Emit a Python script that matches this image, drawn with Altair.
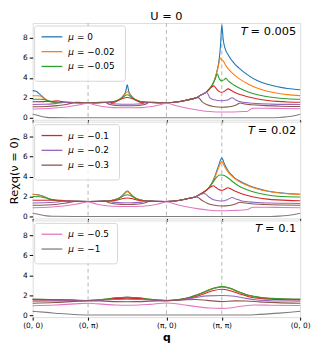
import altair as alt
import pandas as pd

# ---------------- data ----------------
Q_TICKS = [0.0, 1.0, 2.414, 3.414, 4.828]
Q_LABELS = ["(0, 0)", "(0, π)", "(π, 0)", "(π, π)", "(0, 0)"]
MU_VALUES = ["0", "−0.02", "−0.05", "−0.1", "−0.2", "−0.3", "−0.5", "−1"]
COLORS = ["#1f77b4", "#ff7f0e", "#2ca02c", "#d62728", "#9467bd", "#8c564b", "#e377c2", "#7f7f7f"]
TEMPS = ["0.005", "0.02", "0.1"]
Y_TICKS = [0, 2, 4, 6, 8]

# ---- T = 0.005 ----
P1_MU0 = [(0,2.72),(0.05,2.68),(0.11,2.45),(0.18,2.1),(0.25,1.78),(0.32,1.62),(0.45,1.55),(0.7,1.52),(1.0,1.5),(1.25,1.53),(1.4,1.58),(1.5,1.68),(1.58,1.9),(1.64,2.25),(1.68,2.65),(1.707,3.3),(1.734,2.65),(1.774,2.25),(1.834,1.9),(1.914,1.68),(2.014,1.58),(2.164,1.53),(2.414,1.5),(2.63,1.6),(2.81,1.8),(2.94,1.98),(3.03,2.25),(3.14,2.6),(3.22,3.1),(3.27,3.6),(3.31,4.3),(3.34,5.0),(3.365,5.8),(3.39,7.2),(3.414,9.3),(3.44,7.8),(3.47,7.0),(3.53,6.3),(3.63,5.5),(3.72,5.0),(3.88,4.3),(4.06,3.7),(4.24,3.35),(4.42,3.1),(4.6,2.93),(4.828,2.8)]
P1_MU002 = [(0,2.2),(0.1,2.2),(0.15,2.15),(0.2,1.95),(0.26,1.72),(0.32,1.62),(0.45,1.56),(0.7,1.52),(1.0,1.5),(1.25,1.53),(1.4,1.58),(1.5,1.66),(1.58,1.85),(1.64,2.15),(1.707,2.6),(1.774,2.15),(1.834,1.85),(1.914,1.66),(2.014,1.58),(2.164,1.53),(2.414,1.5),(2.63,1.6),(2.81,1.8),(2.94,1.98),(3.03,2.25),(3.14,2.6),(3.22,3.1),(3.27,3.6),(3.31,4.3),(3.34,4.9),(3.36,5.4),(3.385,6.0),(3.41,5.8),(3.44,5.7),(3.49,5.2),(3.53,4.9),(3.63,4.35),(3.72,3.95),(3.88,3.4),(4.06,2.95),(4.24,2.65),(4.42,2.45),(4.6,2.32),(4.828,2.22)]
P1_MU005 = [(0,1.85),(0.15,1.85),(0.22,1.82),(0.28,1.7),(0.35,1.6),(0.42,1.56),(0.7,1.52),(1.0,1.5),(1.25,1.53),(1.42,1.57),(1.5,1.68),(1.58,1.88),(1.64,2.1),(1.707,2.3),(1.774,2.1),(1.834,1.88),(1.914,1.68),(1.994,1.57),(2.164,1.53),(2.414,1.5),(2.63,1.6),(2.81,1.8),(2.94,1.98),(3.03,2.25),(3.14,2.6),(3.22,3.1),(3.27,3.6),(3.3,3.95),(3.33,4.4),(3.37,3.9),(3.41,3.7),(3.45,3.8),(3.49,3.95),(3.53,3.7),(3.6,3.4),(3.72,3.0),(3.88,2.6),(4.06,2.3),(4.24,2.1),(4.42,1.98),(4.6,1.9),(4.828,1.85)]
P1_MU01 = [(0,1.6),(0.2,1.62),(0.35,1.65),(0.45,1.7),(0.52,1.62),(0.62,1.56),(0.8,1.52),(1.0,1.5),(1.25,1.52),(1.48,1.57),(1.55,1.75),(1.62,1.92),(1.707,2.03),(1.794,1.92),(1.864,1.75),(1.934,1.57),(2.164,1.52),(2.414,1.5),(2.63,1.6),(2.81,1.8),(2.94,1.98),(3.03,2.25),(3.14,2.6),(3.22,3.05),(3.27,3.2),(3.31,2.95),(3.36,2.65),(3.414,2.55),(3.46,2.65),(3.53,2.9),(3.58,2.75),(3.66,2.5),(3.76,2.3),(3.88,2.1),(4.06,1.88),(4.24,1.73),(4.42,1.64),(4.6,1.58),(4.828,1.55)]
P1_MU02 = [(0,1.33),(0.2,1.35),(0.4,1.42),(0.52,1.5),(0.61,1.57),(0.75,1.53),(1.0,1.5),(1.2,1.53),(1.354,1.56),(1.42,1.44),(1.52,1.38),(1.707,1.36),(1.894,1.38),(1.994,1.44),(2.06,1.56),(2.214,1.53),(2.414,1.5),(2.63,1.6),(2.81,1.8),(2.94,1.98),(3.03,2.25),(3.14,2.55),(3.2,2.0),(3.27,1.8),(3.414,1.7),(3.52,1.78),(3.6,2.0),(3.66,1.8),(3.75,1.6),(3.88,1.5),(4.06,1.42),(4.3,1.37),(4.6,1.34),(4.828,1.33)]
P1_MU03 = [(0,1.1),(0.25,1.13),(0.45,1.22),(0.6,1.33),(0.7,1.45),(0.77,1.56),(0.88,1.52),(1.0,1.5),(1.15,1.52),(1.3,1.56),(1.38,1.35),(1.5,1.23),(1.707,1.2),(1.914,1.23),(2.034,1.35),(2.114,1.56),(2.26,1.52),(2.414,1.5),(2.63,1.6),(2.81,1.8),(2.99,2.02),(3.06,1.6),(3.15,1.3),(3.26,1.13),(3.414,1.05),(3.55,1.1),(3.66,1.25),(3.75,1.48),(3.82,1.38),(3.95,1.3),(4.2,1.22),(4.5,1.16),(4.828,1.13)]
P1_MU05 = [(0,0.88),(0.2,0.9),(0.4,0.97),(0.6,1.08),(0.8,1.25),(1.0,1.45),(1.15,1.25),(1.3,1.1),(1.45,1.02),(1.707,1.0),(1.964,1.02),(2.114,1.1),(2.264,1.25),(2.414,1.45),(2.6,1.2),(2.8,0.95),(3.0,0.76),(3.2,0.62),(3.414,0.57),(3.6,0.58),(3.8,0.62),(3.88,0.66),(3.93,0.85),(3.97,0.96),(4.2,0.96),(4.5,0.93),(4.828,0.9)]
P1_MU1 = [(0,0.35),(0.08,0.25),(0.16,0.12),(0.25,0.04),(0.35,0.01),(1.0,0.0),(2.414,0.0),(3.414,0.0),(4.3,0.0),(4.45,0.03),(4.6,0.1),(4.72,0.2),(4.828,0.35)]

# ---- T = 0.02 ----
P2_MU0 = [(0,2.22),(0.1,2.18),(0.18,2.05),(0.26,1.85),(0.35,1.68),(0.45,1.6),(0.7,1.53),(1.0,1.5),(1.25,1.53),(1.42,1.6),(1.52,1.75),(1.6,2.0),(1.66,2.35),(1.707,2.55),(1.754,2.35),(1.814,2.0),(1.894,1.75),(1.994,1.6),(2.164,1.53),(2.414,1.5),(2.63,1.6),(2.81,1.8),(2.94,1.98),(3.03,2.25),(3.14,2.65),(3.22,3.2),(3.28,3.9),(3.35,5.0),(3.414,5.85),(3.47,5.15),(3.53,4.55),(3.63,3.95),(3.72,3.6),(3.88,3.15),(4.06,2.8),(4.24,2.55),(4.42,2.4),(4.6,2.3),(4.828,2.23)]
P2_MU002 = [(0,2.2),(0.1,2.16),(0.18,2.03),(0.26,1.83),(0.35,1.67),(0.45,1.6),(0.7,1.53),(1.0,1.5),(1.25,1.53),(1.42,1.6),(1.52,1.74),(1.6,1.98),(1.66,2.3),(1.707,2.48),(1.754,2.3),(1.814,1.98),(1.894,1.74),(1.994,1.6),(2.164,1.53),(2.414,1.5),(2.63,1.6),(2.81,1.8),(2.94,1.98),(3.03,2.25),(3.14,2.65),(3.22,3.15),(3.28,3.8),(3.35,4.8),(3.414,5.5),(3.47,4.95),(3.53,4.45),(3.63,3.88),(3.72,3.53),(3.88,3.1),(4.06,2.76),(4.24,2.52),(4.42,2.37),(4.6,2.27),(4.828,2.2)]
P2_MU005 = [(0,2.0),(0.12,1.98),(0.22,1.88),(0.32,1.72),(0.42,1.6),(0.55,1.55),(0.8,1.52),(1.0,1.5),(1.25,1.53),(1.42,1.6),(1.52,1.73),(1.6,1.95),(1.66,2.12),(1.707,2.18),(1.754,2.12),(1.814,1.95),(1.894,1.73),(1.994,1.6),(2.164,1.53),(2.414,1.5),(2.63,1.6),(2.81,1.8),(2.94,1.98),(3.03,2.25),(3.14,2.65),(3.22,3.15),(3.28,3.65),(3.33,4.0),(3.38,4.15),(3.414,4.15),(3.46,4.1),(3.53,3.85),(3.63,3.4),(3.72,3.05),(3.88,2.65),(4.06,2.35),(4.24,2.15),(4.42,2.03),(4.6,1.97),(4.828,1.95)]
P2_MU01 = [(0,1.62),(0.25,1.63),(0.4,1.65),(0.5,1.63),(0.62,1.57),(0.8,1.52),(1.0,1.5),(1.3,1.53),(1.46,1.57),(1.55,1.68),(1.63,1.8),(1.707,1.85),(1.784,1.8),(1.864,1.68),(1.954,1.57),(2.114,1.53),(2.414,1.5),(2.63,1.6),(2.81,1.8),(2.94,1.98),(3.03,2.25),(3.14,2.65),(3.22,2.98),(3.26,3.08),(3.31,2.9),(3.36,2.7),(3.414,2.62),(3.46,2.7),(3.52,2.88),(3.58,2.75),(3.66,2.52),(3.76,2.3),(3.88,2.1),(4.06,1.88),(4.24,1.74),(4.42,1.66),(4.6,1.61),(4.828,1.58)]
P2_MU02 = [(0,1.35),(0.2,1.37),(0.4,1.43),(0.52,1.5),(0.6,1.55),(0.75,1.53),(1.0,1.5),(1.2,1.53),(1.36,1.55),(1.44,1.44),(1.55,1.39),(1.707,1.37),(1.864,1.39),(1.974,1.44),(2.054,1.55),(2.214,1.53),(2.414,1.5),(2.63,1.6),(2.81,1.8),(2.94,1.98),(3.05,2.25),(3.1,2.3),(3.18,1.95),(3.28,1.65),(3.414,1.55),(3.52,1.7),(3.6,1.9),(3.67,1.75),(3.76,1.58),(3.88,1.48),(4.06,1.4),(4.3,1.35),(4.6,1.32),(4.828,1.3)]
P2_MU03 = [(0,1.12),(0.25,1.15),(0.45,1.23),(0.6,1.34),(0.7,1.45),(0.78,1.53),(0.9,1.52),(1.0,1.5),(1.15,1.52),(1.3,1.54),(1.38,1.37),(1.5,1.25),(1.707,1.2),(1.914,1.25),(2.034,1.37),(2.114,1.54),(2.26,1.52),(2.414,1.5),(2.63,1.6),(2.81,1.8),(2.96,1.95),(3.06,1.6),(3.15,1.32),(3.26,1.14),(3.414,1.05),(3.55,1.1),(3.66,1.25),(3.74,1.42),(3.8,1.38),(3.95,1.28),(4.2,1.2),(4.5,1.15),(4.828,1.12)]
P2_MU05 = [(0,0.88),(0.2,0.9),(0.4,0.97),(0.6,1.08),(0.8,1.25),(1.0,1.45),(1.15,1.25),(1.3,1.1),(1.45,1.02),(1.707,1.0),(1.964,1.02),(2.114,1.1),(2.264,1.25),(2.414,1.45),(2.6,1.2),(2.8,0.95),(3.0,0.76),(3.2,0.63),(3.414,0.58),(3.6,0.6),(3.8,0.64),(3.88,0.7),(3.93,0.84),(3.98,0.92),(4.2,0.92),(4.5,0.9),(4.828,0.88)]
P2_MU1 = [(0,0.33),(0.08,0.25),(0.16,0.14),(0.25,0.06),(0.35,0.02),(1.0,0.0),(4.3,0.0),(4.45,0.03),(4.6,0.1),(4.72,0.2),(4.828,0.33)]

# ---- T = 0.1 ----
P3_MU0 = [(0,1.58),(0.3,1.56),(0.6,1.52),(1.0,1.47),(1.3,1.58),(1.5,1.72),(1.707,1.78),(1.914,1.72),(2.114,1.58),(2.414,1.47),(2.63,1.55),(2.85,1.8),(3.05,2.2),(3.25,2.65),(3.414,2.83),(3.55,2.7),(3.72,2.32),(3.9,1.98),(4.1,1.77),(4.3,1.67),(4.55,1.61),(4.828,1.58)]
P3_MU002 = [(0,1.58),(0.3,1.56),(0.6,1.52),(1.0,1.47),(1.3,1.58),(1.5,1.72),(1.707,1.78),(1.914,1.72),(2.114,1.58),(2.414,1.47),(2.63,1.55),(2.85,1.8),(3.05,2.2),(3.25,2.66),(3.414,2.84),(3.55,2.71),(3.72,2.33),(3.9,1.98),(4.1,1.77),(4.3,1.67),(4.55,1.61),(4.828,1.58)]
P3_MU005 = [(0,1.6),(0.3,1.57),(0.6,1.53),(1.0,1.47),(1.3,1.59),(1.5,1.74),(1.707,1.8),(1.914,1.74),(2.114,1.59),(2.414,1.47),(2.63,1.56),(2.85,1.82),(3.05,2.22),(3.25,2.68),(3.414,2.87),(3.55,2.73),(3.72,2.34),(3.9,1.99),(4.1,1.78),(4.3,1.68),(4.55,1.62),(4.828,1.6)]
P3_MU01 = [(0,1.53),(0.3,1.52),(0.6,1.5),(1.0,1.46),(1.3,1.55),(1.5,1.66),(1.707,1.7),(1.914,1.66),(2.114,1.55),(2.414,1.46),(2.63,1.52),(2.85,1.73),(3.05,2.05),(3.25,2.45),(3.414,2.6),(3.55,2.48),(3.72,2.15),(3.9,1.85),(4.1,1.67),(4.3,1.59),(4.55,1.55),(4.828,1.53)]
P3_MU02 = [(0,1.4),(0.5,1.43),(1.0,1.46),(1.3,1.52),(1.5,1.57),(1.707,1.6),(1.914,1.57),(2.114,1.52),(2.414,1.46),(2.7,1.55),(2.95,1.78),(3.15,1.93),(3.414,1.97),(3.65,1.9),(3.85,1.68),(4.05,1.52),(4.3,1.45),(4.55,1.42),(4.828,1.4)]
P3_MU03 = [(0,1.2),(0.4,1.27),(0.75,1.38),(1.0,1.45),(1.3,1.4),(1.5,1.36),(1.707,1.35),(1.914,1.36),(2.114,1.4),(2.414,1.45),(2.7,1.52),(2.95,1.57),(3.15,1.48),(3.414,1.36),(3.65,1.43),(3.85,1.42),(4.1,1.33),(4.4,1.26),(4.828,1.2)]
P3_MU05 = [(0,0.95),(0.4,1.02),(0.75,1.13),(1.0,1.2),(1.3,1.08),(1.5,1.01),(1.707,0.99),(1.914,1.01),(2.114,1.08),(2.414,1.22),(2.7,1.05),(2.95,0.86),(3.2,0.72),(3.414,0.68),(3.6,0.75),(3.8,0.92),(4.0,1.02),(4.3,1.0),(4.828,0.96)]
P3_MU1 = [(0,0.38),(0.25,0.28),(0.5,0.16),(0.75,0.07),(1.0,0.02),(1.5,0.01),(3.8,0.01),(4.0,0.04),(4.2,0.1),(4.45,0.2),(4.65,0.29),(4.828,0.38)]

PANELS = [
    [P1_MU0, P1_MU002, P1_MU005, P1_MU01, P1_MU02, P1_MU03, P1_MU05, P1_MU1],
    [P2_MU0, P2_MU002, P2_MU005, P2_MU01, P2_MU02, P2_MU03, P2_MU05, P2_MU1],
    [P3_MU0, P3_MU002, P3_MU005, P3_MU01, P3_MU02, P3_MU03, P3_MU05, P3_MU1],
]
LEGEND_GROUPS = [[0, 1, 2], [3, 4, 5], [6, 7]]
LEGEND_WIDTHS = [92, 86, 84]

# ---------------- chart ----------------
W, H = 271, 98
FONT = "DejaVu Sans"
CHAR_W = {"=": 0.838, " ": 0.318, ".": 0.318, "−": 0.838}
xscale = alt.Scale(domain=[Q_TICKS[0], Q_TICKS[-1]], nice=False, zero=False)
yscale = alt.Scale(domain=[-0.2, 9.5], nice=False, zero=False)

label_expr = " : ".join(
    f"datum.value < {((Q_TICKS[i] + Q_TICKS[i + 1]) / 2):.3f} ? '{Q_LABELS[i]}'" for i in range(4)
) + f" : '{Q_LABELS[4]}'"


def text_w(s, size):
    return sum(CHAR_W.get(c, 0.636) for c in s) * size


def make_panel(p):
    bottom = p == 2
    xaxis = alt.Axis(values=Q_TICKS, labels=bottom, labelExpr=label_expr, labelFontSize=7.5,
                     labelOverlap=False, labelFlush=False, tickSize=3, tickColor="black",
                     domain=False, grid=False, labelPadding=1, labelColor="black",
                     title="q" if bottom else None, titleFontSize=11, titleFontWeight="bold",
                     titlePadding=3, titleColor="black")
    yaxis = alt.Axis(values=Y_TICKS, labelFontSize=7.5, tickSize=3.5, tickColor="black",
                     domain=False, grid=False, labelPadding=2, labelColor="black",
                     title="Reχq(ν = 0)" if p == 1 else None, titleFontSize=11.5,
                     titleFontWeight="normal", titlePadding=3, titleColor="black")
    layers = []
    vdf = pd.DataFrame({"s": Q_TICKS[1:4]})
    layers.append(alt.Chart(vdf).mark_rule(color="#b5b5b5", strokeDash=[4, 3], strokeWidth=1).encode(
        x=alt.X("s:Q", scale=xscale, axis=xaxis)))
    for k, series in enumerate(PANELS[p]):
        df = pd.DataFrame(series, columns=["s", "v"])
        layers.append(alt.Chart(df).mark_line(color=COLORS[k], strokeWidth=1.1, interpolate="monotone").encode(
            x=alt.X("s:Q", scale=xscale, axis=xaxis),
            y=alt.Y("v:Q", scale=yscale, axis=yaxis)))
    # legend
    idxs = LEGEND_GROUPS[p]
    box_h = 11 + 15 * len(idxs)
    one = pd.DataFrame({"a": [0]})
    layers.append(alt.Chart(one).mark_rect(fill="white", fillOpacity=0.8, stroke="#cccccc", strokeWidth=0.8,
                                           cornerRadius=2.5).encode(
        x=alt.value(2), x2=alt.value(2 + LEGEND_WIDTHS[p]), y=alt.value(3), y2=alt.value(3 + box_h)))
    ldf = pd.DataFrame({"lab": ["= " + MU_VALUES[i] for i in idxs], "col": [COLORS[i] for i in idxs],
                        "ly": [14 + 15 * j for j in range(len(idxs))], "mu": ["μ"] * len(idxs)})
    layers.append(alt.Chart(ldf).mark_rule(strokeWidth=1.3).encode(
        x=alt.value(9), x2=alt.value(30), y=alt.Y("ly:Q", scale=None),
        color=alt.Color("col:N", scale=None)))
    layers.append(alt.Chart(ldf).mark_text(align="left", baseline="middle", fontSize=9, font=FONT,
                                           fontStyle="italic", color="black").encode(
        x=alt.value(36), y=alt.Y("ly:Q", scale=None), text="mu:N"))
    layers.append(alt.Chart(ldf).mark_text(align="left", baseline="middle", fontSize=9, font=FONT,
                                           color="black").encode(
        x=alt.value(45), y=alt.Y("ly:Q", scale=None), text="lab:N"))
    # temperature annotation: italic T, upright rest
    rest = "= " + TEMPS[p]
    fs = 11.5
    layers.append(alt.Chart(one).mark_text(align="right", baseline="middle", fontSize=fs, font=FONT,
                                           color="black").encode(
        x=alt.value(W - 4), y=alt.value(9), text=alt.value(rest)))
    layers.append(alt.Chart(one).mark_text(align="right", baseline="middle", fontSize=fs, font=FONT,
                                           fontStyle="italic", color="black").encode(
        x=alt.value(W - 4 - text_w(rest, fs) - 3), y=alt.value(9), text=alt.value("T")))
    ch = alt.layer(*layers).properties(width=W, height=H)
    if p == 0:
        ch = ch.properties(title=alt.TitleParams("U = 0", fontSize=11.5, fontWeight="normal", font=FONT,
                                                 anchor="middle", frame="group", offset=0, color="black"))
    return ch


chart = alt.vconcat(*[make_panel(p) for p in range(3)], spacing=2, bounds="flush").properties(
    padding=0).configure_view(stroke="black", strokeWidth=0.8).configure(font=FONT)

chart.save("out.html", embed_options={"renderer": "svg", "actions": False})
